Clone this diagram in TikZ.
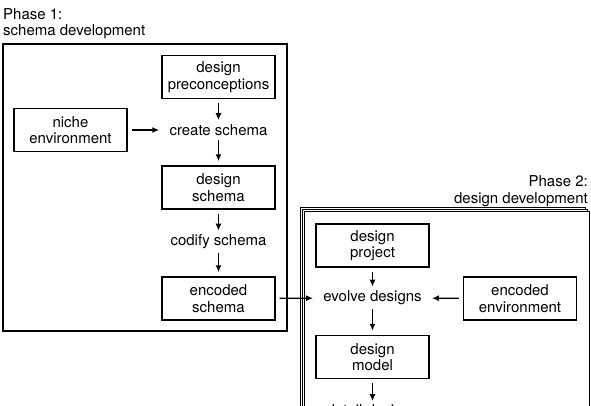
\documentclass[tikz,border=0pt]{standalone}
\usepackage{fontspec}
\setmainfont{TeX Gyre Heros}
\usetikzlibrary{arrows.meta,positioning}

\tikzset{
  stage/.style={draw,line width=1.4pt,minimum width=113pt,minimum height=43pt,
    align=center,inner sep=0pt},
  act/.style={inner xsep=6pt,inner ysep=0pt},
  flow/.style={-{Latex[length=7pt,width=6pt]},line width=1.4pt,
    shorten <=4pt,shorten >=4pt},
  frame/.style={draw,fill=white,line width=1pt},
}

\begin{document}
\begin{tikzpicture}[x=1pt,y=-1pt,font=\fontsize{15}{16.5}\selectfont]
\useasboundingbox (0,0) rectangle (591,406);
\clip (0,0) rectangle (591,406);

% phase 1
\node[anchor=base west,inner sep=0pt] (ph1a) at (3,19.5) {Phase 1:};
\node[anchor=base west,inner sep=0pt] (ph1b) at (3,36) {schema development};
\draw[line width=1.4pt] (3,44) rectangle (287,331);

\node[stage] (precon) at (218.5,77) {design\\preconceptions};
\node[stage] (niche) at (70.5,130) {niche\\environment};
\node[act] (create) at (218.5,130) {create schema};
\node[stage] (dschema) at (218.5,187.5) {design\\schema};
\node[act] (codify) at (218.5,242) {codify schema};
\node[stage] (eschema) at (218.5,298.5) {encoded\\schema};

\draw[flow] (precon) -- (create);
\draw[flow] (niche) -- (create);
\draw[flow] (create) -- (dschema);
\draw[flow] (dschema) -- (codify);
\draw[flow] (codify) -- (eschema);

% phase 2
\node[anchor=base east,inner sep=0pt] (ph2a) at (588,186.5) {Phase 2:};
\node[anchor=base east,inner sep=0pt] (ph2b) at (588,203) {design development};
\draw[frame] (300,207) rectangle (585,460);
\draw[frame] (302,209) rectangle (587,462);
\draw[frame] (304,211) rectangle (589,464);

\node[stage] (project) at (372.5,245.5) {design\\project};
\node[act] (evolve) at (372.5,298) {evolve designs};
\node[stage] (eenv) at (520,298.5) {encoded\\environment};
\node[stage] (model) at (372.5,357) {design\\model};
\node[act,anchor=base] (detail) at (372.5,415.5) {detail designs};

\draw[flow] (project) -- (evolve);
\draw[flow] (eschema) -- (evolve);
\draw[flow] (eenv) -- (evolve);
\draw[flow] (evolve) -- (model);
\draw[flow,shorten >=0pt] (model.south) -- ++(0,22);

\end{tikzpicture}
\end{document}
